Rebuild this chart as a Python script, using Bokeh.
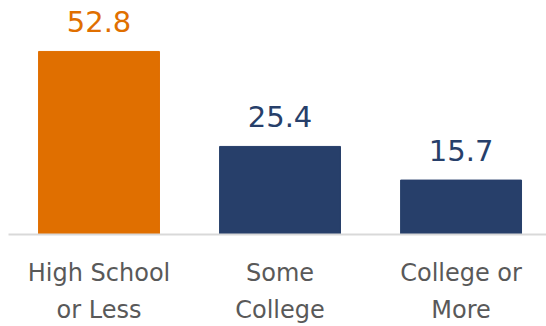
from bokeh.plotting import figure
from bokeh.models import ColumnDataSource, Range1d, FixedTicker
from bokeh.core.properties import value
from bokeh.embed import file_html
from bokeh.resources import INLINE

categories = ["High School\nor Less", "Some\nCollege", "College or\nMore"]
values = [52.8, 25.4, 15.7]
labels = ["52.8", "25.4", "15.7"]
colors = ["#E06F00", "#273F6A", "#273F6A"]

xs = list(range(len(categories)))
src = ColumnDataSource(dict(x=xs, top=values, label=labels, color=colors))

FONT = "DejaVu Sans"

p = figure(frame_width=538, frame_height=234, output_backend="svg", toolbar_location=None,
           x_range=Range1d(-0.5, 2.472), y_range=Range1d(0, 67.5),
           min_border_left=8, min_border_right=0, min_border_top=0,
           min_border_bottom=0, outline_line_color=None,
           background_fill_color="white", border_fill_color="white")

p.vbar(x="x", top="top", bottom=0, width=0.668, color="color", source=src)
p.text(x="x", y="top", text="label", source=src, text_color="color",
       text_font=value(FONT), text_font_size="29px", text_align="center",
       text_baseline="alphabetic", y_offset=-30)

p.yaxis.visible = False
p.grid.visible = False
xa = p.xaxis[0]
xa.ticker = FixedTicker(ticks=xs)
xa.major_label_overrides = {i: c for i, c in enumerate(categories)}
xa.major_tick_line_color = None
xa.minor_tick_line_color = None
xa.axis_line_color = "#D9D9D9"
xa.axis_line_width = 2
xa.major_label_standoff = 18
xa.major_label_text_font = FONT
xa.major_label_text_font_size = "24px"
xa.major_label_text_line_height = 1.35
xa.major_label_text_color = "#595959"

open("out.html", "w").write(file_html(p, INLINE))
